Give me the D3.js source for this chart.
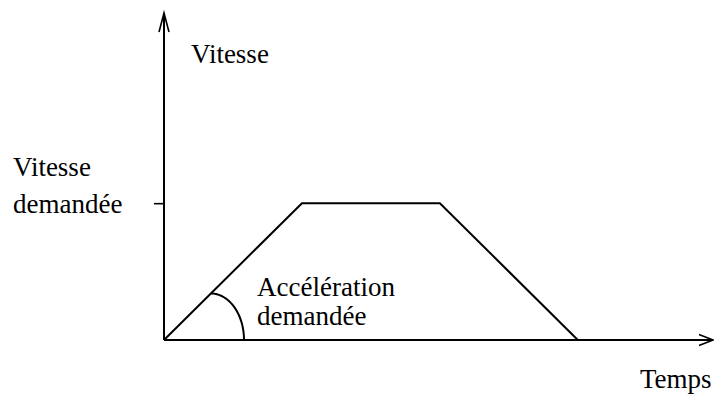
<!DOCTYPE html>
<html><head><meta charset="utf-8">
<script src="https://cdn.jsdelivr.net/npm/d3@7"></script>
<style>
html,body{margin:0;padding:0;background:#fff;}
</style></head>
<body><svg id="c" width="714" height="400"></svg>
<script>
// Data: trapezoidal velocity profile
const timePoints = [0, 1, 2, 3];
const speedValues = [0, 1, 1, 0];
const speedTicks = [1];
const yLabel = "Vitesse";
const xLabel = "Temps";
const speedTickLabel = ["Vitesse", "demandée"];
const accelLabel = ["Accélération", "demandée"];
const accelArcSpeed = 0.34;   // speed level where the angle mark meets the ramp
const accelArcEnd = 0.58;     // time where the angle mark meets the time axis

const FONT = "'Liberation Serif', 'DejaVu Serif', 'Times New Roman', serif";

const svg = d3.select("#c");
const x = d3.scaleLinear().domain([0, 3.98]).range([164, 713]);
const y = d3.scaleLinear().domain([0, 2.39]).range([340, 13]);

const g = svg.append("g");
const stroke = "#000";

// axes lines
g.append("line").attr("x1", x(0)).attr("y1", y(0)).attr("x2", x(0)).attr("y2", y(2.39))
  .attr("stroke", stroke).attr("stroke-width", 2);
g.append("line").attr("x1", x(0)).attr("y1", y(0)).attr("x2", x(3.98)).attr("y2", y(0))
  .attr("stroke", stroke).attr("stroke-width", 2);

// arrowheads (open V)
const ytop = y(2.39), xr = x(3.98);
g.append("path").attr("d", `M${x(0)-5},${ytop+19} L${x(0)},${ytop} L${x(0)+5},${ytop+19}`)
  .attr("fill", "none").attr("stroke", stroke).attr("stroke-width", 1.6);
g.append("path").attr("d", `M${xr-14},${y(0)-5.5} L${xr},${y(0)} L${xr-14},${y(0)+5.5}`)
  .attr("fill", "none").attr("stroke", stroke).attr("stroke-width", 1.6);

// tick on speed axis
const ax = g.append("g").attr("transform", `translate(${x(0)},0)`)
  .call(d3.axisLeft(y).tickValues(speedTicks).tickSize(10).tickFormat(""));
ax.select(".domain").remove();
ax.selectAll(".tick line").attr("stroke", stroke).attr("stroke-width", 1.6);

// profile
const data = timePoints.map((t, i) => ({t, v: speedValues[i]}));
g.append("path").datum(data)
  .attr("d", d3.line().x(d => x(d.t)).y(d => y(d.v)))
  .attr("fill", "none").attr("stroke", stroke).attr("stroke-width", 2)
  .attr("stroke-linejoin", "miter");

// acceleration angle mark (quarter ellipse)
const rampT = accelArcSpeed * (timePoints[1] - timePoints[0]) / (speedValues[1] - speedValues[0]);
const cx = x(rampT), cy = y(0);
const rx = x(accelArcEnd) - cx, ry = y(0) - y(accelArcSpeed);
const angles = d3.range(0, 91, 3).map(a => a * Math.PI / 180);
g.append("path")
  .attr("d", d3.line()(angles.map(a => [cx + rx * Math.sin(a), cy - ry * Math.cos(a)])))
  .attr("fill", "none").attr("stroke", stroke).attr("stroke-width", 2);

// labels
function label(tx, ty, s) {
  svg.append("text").attr("x", tx).attr("y", ty).text(s)
    .attr("font-family", FONT).attr("font-size", 27).attr("fill", "#000");
}
label(191, 63, yLabel);
label(640, 388, xLabel);
label(13, y(1) - 27, speedTickLabel[0]);
label(13, y(1) + 10, speedTickLabel[1]);
label(257, 296, accelLabel[0]);
label(257, 325, accelLabel[1]);
</script></body></html>
